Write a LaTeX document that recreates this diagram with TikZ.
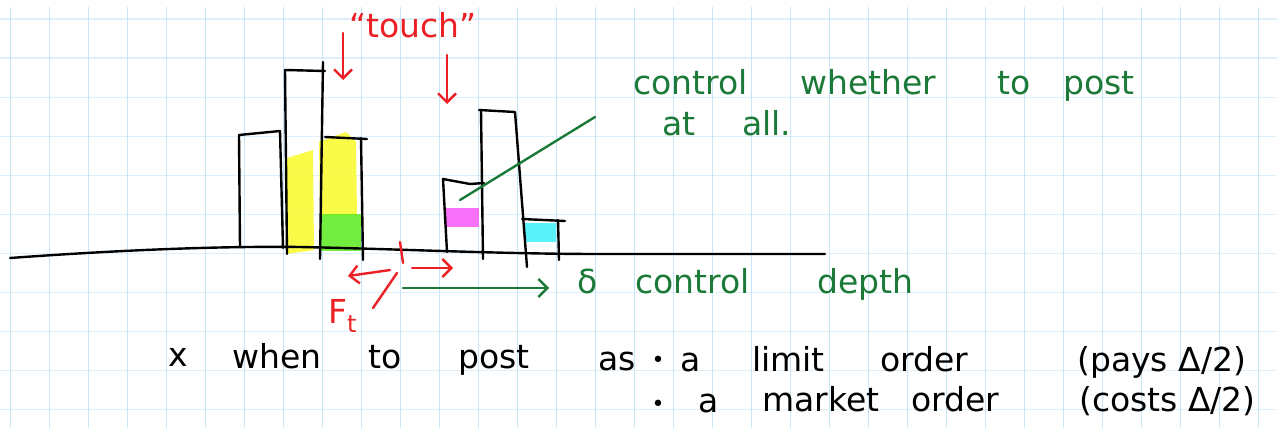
\documentclass[tikz,border=0pt]{standalone}
\usepackage{fontspec}
\setmainfont{DejaVu Sans}
\usetikzlibrary{arrows.meta,positioning}

\definecolor{gridv}{RGB}{200,230,250}
\definecolor{gridh}{RGB}{222,240,252}
\definecolor{inkred}{RGB}{236,32,36}
\definecolor{inkgreen}{RGB}{28,122,56}
\definecolor{hlyellow}{RGB}{250,250,40}
\definecolor{hlgreen}{RGB}{90,235,30}
\definecolor{hlmagenta}{RGB}{250,90,250}
\definecolor{hlcyan}{RGB}{60,240,250}

\begin{document}
\begin{tikzpicture}[
    x=1pt, y=-1pt,
    >={Straight Barb[length=9pt,width=18pt]},
    ink/.style={line width=2.4pt, line cap=round, line join=round},
    word/.style={anchor=base west, inner sep=0pt, font=\fontsize{33}{36}\selectfont},
    dot/.style={anchor=center, inner sep=0pt, font=\fontsize{22}{24}\selectfont},
    hl/.style={fill opacity=0.85}
]

% Paper
\fill[white] (0,0) rectangle (1277,428);
\useasboundingbox (0,0) rectangle (1277,428);
\foreach \k in {0,...,10}
    \draw[gridh, line width=1.6pt] (0,19.3+39*\k) -- (1277,19.3+39*\k);
\foreach \k in {0,...,32}
    \draw[gridv, line width=1.6pt] (10.3+39*\k,7) -- (10.3+39*\k,428);

% Highlights
\fill[hlyellow, hl] (287,158) -- (313,150) -- (314,250) -- (287,254) -- cycle;
\fill[hlyellow, hl] (319,142) -- (346,132) -- (356,142) -- (357,215) -- (320,215) -- cycle;
\fill[hlgreen, hl] (320,214) rectangle (361,251);
\fill[hlmagenta, hl] (445,208) rectangle (479,227);
\fill[hlcyan, hl] (525,223) rectangle (556,242);

% Price axis
\draw[ink] (10,258) .. controls (120,250) and (220,246) .. (300,247)
    .. controls (400,249) and (500,254) .. (600,254) -- (825,254);

% Bid side
\draw[ink] (240,247) -- (239,135) -- (280,131) -- (283,248);
\draw[ink] (287,254) -- (285,70) -- (325,71);
\draw[ink] (323,62) -- (320,259);
\draw[ink] (325,137) -- (367,139);
\draw[ink] (361,138) -- (363,260);

% Ask side
\draw[ink] (447,252) -- (443,179) -- (470,184) -- (484,183);
\draw[ink] (481,110) -- (483,259);
\draw[ink] (479,110) -- (515,112) -- (527,267);
\draw[ink] (522,219) -- (565,221);
\draw[ink] (558,220) -- (559,260);

% Touch
\node[word, anchor=base, inkred] (touchlbl) at (413,38) {“touch”};
\coordinate (bidtop) at (343,33);
\coordinate (bidtip) at (343,80);
\coordinate (asktop) at (447,55);
\coordinate (asktip) at (447,104);
\draw[ink, inkred, ->] (bidtop) -- (bidtip);
\draw[ink, inkred, ->] (asktop) -- (asktip);

% Fair price
\coordinate (midtop) at (400,242);
\coordinate (midbot) at (403,263);
\coordinate (leftfrom) at (390,270);
\coordinate (leftto) at (348,276);
\coordinate (rightfrom) at (412,268);
\coordinate (rightto) at (453,268);
\coordinate (slashtop) at (397,273);
\coordinate (slashbot) at (373,308);
\draw[ink, inkred] (midtop) -- (midbot);
\draw[ink, inkred, ->] (leftfrom) -- (leftto);
\draw[ink, inkred, ->] (rightfrom) -- (rightto);
\draw[ink, inkred] (slashtop) -- (slashbot);
\node[word, inkred] (ftlbl) at (328,323) {F\raisebox{-9pt}{\fontsize{24}{26}\selectfont t}};

% Depth
\coordinate (depthfrom) at (403,288);
\coordinate (depthto) at (549,288);
\draw[ink, inkgreen, ->] (depthfrom) -- (depthto);
\node[word, inkgreen] (deltalbl) at (577,293) {δ};
\node[word, inkgreen] (ctrlA) at (635,293) {control};
\node[word, inkgreen] (depthlbl) at (817,293) {depth};

% Whether to post
\coordinate (postfrom) at (460,200);
\coordinate (postto) at (595,117);
\draw[ink, inkgreen] (postfrom) -- (postto);
\node[word, inkgreen] (ctrlB) at (633,95) {control};
\node[word, inkgreen] (whether) at (800,95) {whether};
\node[word, inkgreen] (topostA) at (997,95) {to};
\node[word, inkgreen] (topostB) at (1063,95) {post};
\node[word, inkgreen] (atall) at (662,135) {at};
\node[word, inkgreen] (atallB) at (742,135) {all.};

% Notes
\node[word] (mark) at (168,366) {x};
\node[word] (when) at (232,368) {when};
\node[word] (whento) at (368,368) {to};
\node[word] (whenpost) at (458,368) {post};
\node[word] (as) at (598,370) {as};
\node[dot] (dotA) at (658,362) {•};
\node[word] (limitA) at (680,371) {a};
\node[word] (limit) at (752,371) {limit};
\node[word] (limitorder) at (880,371) {order};
\node[word] (pays) at (1077,371) {(pays Δ/2)};
\node[dot] (dotB) at (658,406) {•};
\node[word] (marketA) at (698,412) {a};
\node[word] (market) at (762,411) {market};
\node[word] (marketorder) at (911,411) {order};
\node[word] (costs) at (1079,411) {(costs Δ/2)};

\end{tikzpicture}
\end{document}
